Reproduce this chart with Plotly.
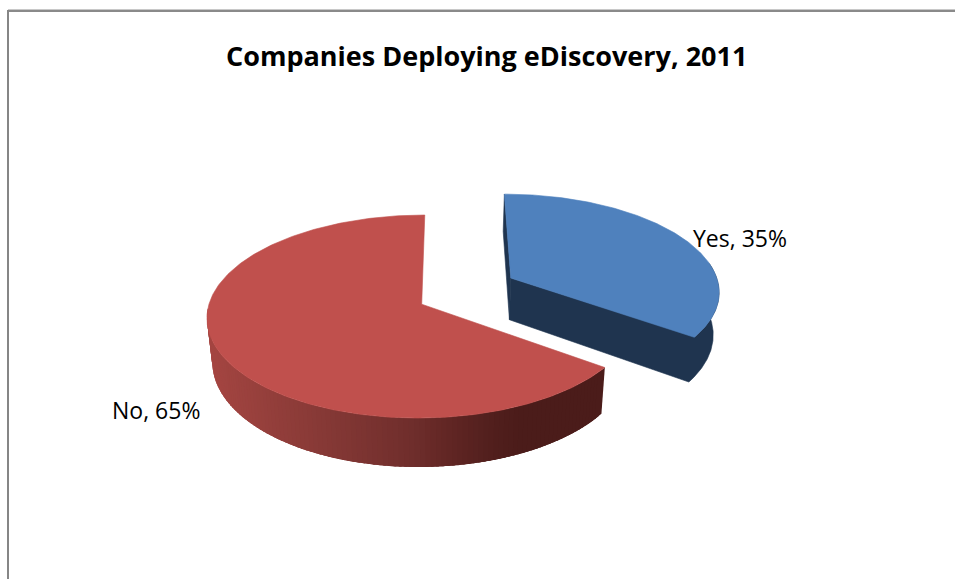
import math
import plotly.graph_objects as go

labels = ["Yes", "No"]
values = [35, 65]
title_text = "Companies Deploying eDiscovery, 2011"

BLUE_TOP = "#4F81BD"
BLUE_SIDE = "#1F344F"
RED_TOP = "#C0504D"
GRADIENT = [(205, (166, 70, 66)), (340, (132, 56, 53)), (420, (112, 46, 44)), (500, (82, 31, 29)), (530, (75, 28, 26)), (620, (75, 28, 26))]

# Perspective camera of the tilted pie, fitted to the reference
VX, VY = 450.0, -521.0
F, H = 1755.0, 6808.0
DEPTH = 355.0
SHRINK = 0.022
CENTERS = {"Yes": (0.295, 8.52), "No": (-0.133, 8.25)}


def project(name, theta, r=1.0, bottom=False):
    cx, cd = CENTERS[name]
    wx = cx + r * math.sin(theta)
    d = cd + r * math.cos(theta)
    sx = VX + F * wx / d
    sy = VY + H / d
    if bottom:
        sx -= (sx - VX) * SHRINK
        sy += DEPTH / d
    return sx, sy


def arc(name, a0, a1, n=160, bottom=False):
    return [project(name, a0 + (a1 - a0) * i / n, bottom=bottom) for i in range(n + 1)]


def grad(x):
    for (x0, c0), (x1, c1) in zip(GRADIENT, GRADIENT[1:]):
        if x <= x1:
            t = max(0, (x - x0) / (x1 - x0))
            return "rgb(%d,%d,%d)" % tuple(round(a + (b - a) * t) for a, b in zip(c0, c1))
    return "rgb(%d,%d,%d)" % GRADIENT[-1][1]


def poly(fig, pts, color, width=0.6):
    fig.add_trace(go.Scatter(
        x=[p[0] for p in pts] + [pts[0][0]], y=[p[1] for p in pts] + [pts[0][1]],
        mode="lines", fill="toself", fillcolor=color,
        line=dict(color=color, width=width), hoverinfo="skip", showlegend=False))


total = sum(values)
spans = {}
start = 0.0
for name, v in zip(labels, values):
    end = start + 2 * math.pi * v / total
    spans[name] = (start, end)
    start = end

fig = go.Figure()

# Exploded slice "Yes"
a0, a1 = spans["Yes"]
poly(fig, [project("Yes", a0, 0), project("Yes", a0), project("Yes", a0, bottom=True), project("Yes", a0, 0, bottom=True)], BLUE_SIDE)
side_from = math.pi * 0.45
poly(fig, [project("Yes", a1, 0)] + arc("Yes", a1, side_from) + arc("Yes", side_from, a1, bottom=True) + [project("Yes", a1, 0, bottom=True)], BLUE_SIDE)
poly(fig, [project("Yes", a0, 0)] + arc("Yes", a0, a1), BLUE_TOP)

# Slice "No" with shaded outer wall; each strip overlaps the one before it
a0, a1 = spans["No"]
wall_end = math.radians(268)
STRIPS = 110
step = (wall_end - a0) / STRIPS
for i in reversed(range(STRIPS)):
    s0 = a0 + step * i
    s1 = s0 + step * 2.5
    s1 = min(s1, wall_end)
    pts = arc("No", s0, s1, 4) + arc("No", s1, s0, 4, bottom=True)
    poly(fig, pts, grad(project("No", s0)[0]), width=0)
poly(fig, [project("No", a0, 0)] + arc("No", a0, a1, 240), RED_TOP)

annotations = [
    dict(x=691, y=238, text=f"{labels[0]}, {values[0]}%"),
    dict(x=110, y=410, text=f"{labels[1]}, {values[1]}%"),
]
fig.update_layout(
    width=955, height=579, margin=dict(l=0, r=0, t=0, b=0),
    paper_bgcolor="white", plot_bgcolor="white", showlegend=False,
    xaxis=dict(range=[0, 955], visible=False, fixedrange=True),
    yaxis=dict(range=[579, 0], visible=False, fixedrange=True),
    font=dict(family="Open Sans", color="#000000"),
    annotations=[dict(a, xref="x", yref="y", xanchor="left", yanchor="middle", showarrow=False,
                      font=dict(size=23, family="Open Sans", color="#000000")) for a in annotations] + [
        dict(x=486, y=55, xref="x", yref="y", text=f"<b>{title_text}</b>", showarrow=False,
             xanchor="center", yanchor="middle", font=dict(size=27, family="Open Sans", color="#000000"))],
    shapes=[
        dict(type="line", xref="x", yref="y", x0=8, x1=955, y0=9.5, y1=9.5, line=dict(color="#C8C8C8", width=1)),
        dict(type="line", xref="x", yref="y", x0=7, x1=955, y0=11, y1=11, line=dict(color="#8A8A8A", width=2)),
        dict(type="line", xref="x", yref="y", x0=8, x1=8, y0=10, y1=579, line=dict(color="#868686", width=2)),
    ],
)
fig.write_html("out.html", config={"displayModeBar": False},
               post_script="document.body.style.margin='0';")
